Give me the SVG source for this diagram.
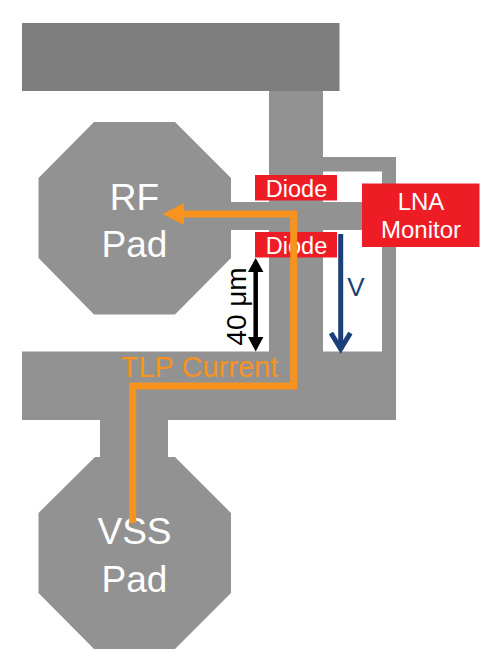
<svg xmlns="http://www.w3.org/2000/svg" width="500" height="671" viewBox="0 0 500 671">
<style>
.m{fill:#929292}
.r{fill:#ee1c25}
text{font-family:"Liberation Sans",Arial,sans-serif}
.w{fill:#fff;text-anchor:middle}
.b{font-size:37px}
.d{font-size:23.500px}
.l{font-size:24px}
</style>
<rect width="500" height="671" fill="#fff"/>
<g id="metal">
<rect id="top-bar" x="22" y="23" width="317.500" height="68" fill="#7e7e7e"/>
<path class="m" d="M269 91H323V157H396V420H168V457H175L231 513V593L175 649H94L38.500 593V513L95 457H100V420H22V351.500H269V230H230V202H269Z"/>
</g>
<g id="white-windows">
<rect x="323" y="171.500" width="59" height="30.500" fill="#fff"/>
<rect x="323" y="230" width="59" height="121.500" fill="#fff"/>
</g>
<g id="rf-pad">
<path class="m" d="M94 122H175L231 178V258L175 314.500H94L38.500 258V178Z"/>
<text class="w b" x="134.500" y="210">RF</text>
<text class="w b" x="134.500" y="257">Pad</text>
</g>
<g id="vss-pad">
<text class="w b" x="134.500" y="544">VSS</text>
<text class="w b" x="134.500" y="592">Pad</text>
</g>
<g id="diode-top">
<rect class="r" x="255" y="175" width="82" height="25.500"/>
<text class="w d" x="296.500" y="197">Diode</text>
</g>
<g id="diode-bottom">
<rect class="r" x="255" y="232" width="82" height="25.500"/>
<text class="w d" x="296.500" y="254">Diode</text>
</g>
<g id="lna-monitor">
<rect class="r" x="362" y="183.500" width="117.500" height="63.500"/>
<text class="w l" x="421" y="210">LNA</text>
<text class="w l" x="421" y="238">Monitor</text>
</g>
<g id="connectors">
<path d="M132.700 523V386H293.700V214H180" fill="none" stroke="#f7931e" stroke-width="7"/>
<path d="M184 203L162.500 214L184 225Z" fill="#f7931e"/>
<path d="M255.700 266V344" stroke="#000" stroke-width="4.500"/>
<path d="M255.700 258L248 272H263.400ZM255.700 351.500L248 337H263.400Z" fill="#000"/>
<path d="M340.700 234V350" stroke="#1b3f78" stroke-width="5" fill="none"/>
<path d="M331 333L340.700 349L350.400 333" stroke="#1b3f78" stroke-width="5" fill="none"/>
</g>
<g id="labels">
<text x="356" y="296" font-size="26" fill="#1b3f78" text-anchor="middle">V</text>
<text x="199.500" y="377" font-size="29" fill="#f7931e" text-anchor="middle">TLP Current</text>
<text transform="translate(246 306.500) rotate(-90)" font-size="28" fill="#000" text-anchor="middle">40 μm</text>
</g>
</svg>
